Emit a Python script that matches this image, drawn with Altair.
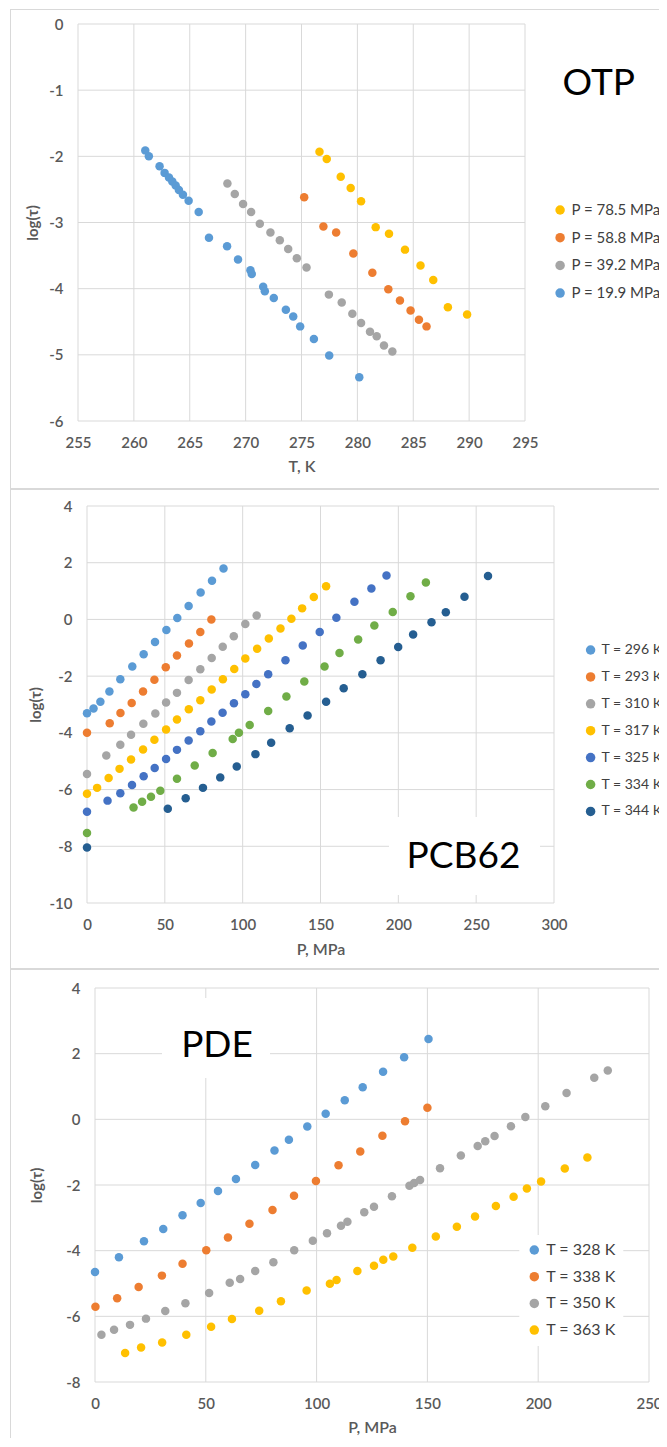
import altair as alt
import pandas as pd

# ---------------- data: OTP (log tau vs T) ----------------
otp_names = ["P = 78.5 MPa", "P = 58.8 MPa", "P = 39.2 MPa", "P = 19.9 MPa"]
otp_colors = ["#FFC000", "#ED7D31", "#A5A5A5", "#5B9BD5"]
otp_T_785 = [276.61, 277.26, 278.51, 279.40, 280.33, 281.64, 282.83, 284.26, 285.65, 286.79, 288.10, 289.82]
otp_v_785 = [-1.93, -2.04, -2.31, -2.48, -2.68, -3.07, -3.17, -3.41, -3.65, -3.87, -4.28, -4.39]
otp_T_588 = [275.24, 276.96, 278.10, 279.64, 281.34, 282.77, 283.81, 284.76, 285.51, 286.19]
otp_v_588 = [-2.62, -3.06, -3.15, -3.47, -3.76, -4.01, -4.18, -4.33, -4.47, -4.57]
otp_T_392 = [268.37, 269.03, 269.77, 270.49, 271.27, 272.22, 273.06, 273.81, 274.58, 275.45,
             277.45, 278.60, 279.55, 280.33, 281.13, 281.73, 282.38, 283.13]
otp_v_392 = [-2.41, -2.57, -2.72, -2.84, -3.02, -3.15, -3.27, -3.40, -3.54, -3.68,
             -4.09, -4.21, -4.38, -4.52, -4.65, -4.72, -4.86, -4.95]
otp_T_199 = [261.02, 261.34, 262.30, 262.75, 263.14, 263.44, 263.74, 264.03, 264.39, 264.90,
             265.80, 266.72, 268.34, 269.32, 270.43, 270.55, 271.57, 271.72, 272.52, 273.60,
             274.26, 274.88, 276.11, 277.48, 280.17]
otp_v_199 = [-1.91, -2.00, -2.15, -2.25, -2.32, -2.38, -2.44, -2.51, -2.58, -2.67,
             -2.84, -3.23, -3.36, -3.56, -3.72, -3.78, -3.97, -4.04, -4.14, -4.32,
             -4.42, -4.57, -4.76, -5.01, -5.34]
otp_x_ticks = [255, 260, 265, 270, 275, 280, 285, 290, 295]
otp_y_ticks = [-6, -5, -4, -3, -2, -1, 0]

# ---------------- data: PCB62 (log tau vs P) ----------------
pcb_names = ["T = 296 K", "T = 293 K", "T = 310 K", "T = 317 K", "T = 325 K", "T = 334 K", "T = 344 K"]
pcb_colors = ["#5B9BD5", "#ED7D31", "#A5A5A5", "#FFC000", "#4472C4", "#70AD47", "#255E91"]
pcb_P_296 = [0, 4.2, 8.6, 14.4, 21.4, 29.1, 36.4, 43.7, 51.0, 58.0, 65.3, 73.0, 80.3, 87.7]
pcb_v_296 = [-3.31, -3.14, -2.90, -2.54, -2.11, -1.66, -1.23, -0.80, -0.37, 0.05, 0.47, 0.95, 1.36, 1.80]
pcb_P_293 = [0, 14.6, 21.5, 28.7, 36.0, 43.3, 50.6, 57.8, 65.5, 72.8, 79.9]
pcb_v_293 = [-4.00, -3.66, -3.30, -2.95, -2.54, -2.13, -1.69, -1.27, -0.85, -0.44, 0.00]
pcb_P_310 = [0, 12.4, 21.4, 28.3, 36.2, 43.9, 50.8, 57.8, 65.3, 72.8, 80.1, 87.2, 94.3, 101.7, 109.0]
pcb_v_310 = [-5.45, -4.80, -4.42, -4.07, -3.68, -3.32, -2.93, -2.59, -2.14, -1.76, -1.36, -0.96, -0.59, -0.16, 0.14]
pcb_P_317 = [0, 6.5, 13.9, 20.9, 28.3, 36.0, 43.3, 50.8, 57.8, 65.4, 72.8, 80.1, 87.3, 94.6, 101.7,
             109.3, 116.8, 124.3, 131.3, 138.2, 145.7, 153.6]
pcb_v_317 = [-6.15, -5.94, -5.59, -5.27, -4.94, -4.59, -4.24, -3.88, -3.53, -3.17, -2.85, -2.47, -2.11, -1.75, -1.38,
             -1.03, -0.67, -0.32, 0.02, 0.39, 0.79, 1.17]
pcb_P_325 = [0, 13.2, 21.4, 28.9, 36.4, 43.5, 50.8, 57.8, 65.3, 72.8, 79.9, 87.1, 94.4, 101.7, 108.8,
             116.4, 127.5, 138.6, 149.5, 160.2, 171.8, 182.7, 192.4]
pcb_v_325 = [-6.78, -6.39, -6.13, -5.84, -5.53, -5.24, -4.92, -4.60, -4.27, -3.94, -3.60, -3.29, -2.96, -2.64, -2.28,
             -1.93, -1.44, -0.92, -0.44, 0.06, 0.62, 1.09, 1.55]
pcb_P_334 = [0, 29.9, 35.4, 41.1, 47.1, 57.8, 69.2, 80.7, 93.6, 97.6, 104.5, 116.4, 128.1, 139.6, 152.6,
             162.2, 174.2, 184.6, 196.4, 207.8, 217.7]
pcb_v_334 = [-7.53, -6.63, -6.43, -6.25, -6.04, -5.62, -5.15, -4.71, -4.22, -4.00, -3.72, -3.23, -2.72, -2.19, -1.66,
             -1.18, -0.71, -0.21, 0.26, 0.82, 1.30]
pcb_P_344 = [0, 51.9, 63.4, 74.5, 85.6, 96.2, 108.2, 118.3, 130.2, 141.7, 153.6, 164.9, 176.9, 188.6, 199.9,
             209.5, 221.3, 230.5, 242.5, 257.6]
pcb_v_344 = [-8.04, -6.68, -6.31, -5.94, -5.57, -5.19, -4.75, -4.35, -3.84, -3.39, -2.90, -2.43, -1.93, -1.44, -0.97,
             -0.53, -0.10, 0.25, 0.80, 1.53]
pcb_x_ticks = [0, 50, 100, 150, 200, 250, 300]
pcb_y_ticks = [-10, -8, -6, -4, -2, 0, 2, 4]

# ---------------- data: PDE (log tau vs P) ----------------
pde_names = ["T = 328 K", "T = 338 K", "T = 350 K", "T = 363 K"]
pde_colors = ["#5B9BD5", "#ED7D31", "#A5A5A5", "#FFC000"]
pde_P_328 = [0, 10.8, 22.1, 30.8, 39.5, 47.7, 55.5, 63.6, 72.3, 81.0, 87.5, 95.8, 104.1, 112.7, 120.8, 130.0, 139.5, 150.5]
pde_v_328 = [-4.65, -4.20, -3.71, -3.34, -2.92, -2.55, -2.18, -1.82, -1.39, -0.95, -0.62, -0.22, 0.17, 0.58, 0.98, 1.45, 1.89, 2.45]
pde_P_338 = [0.2, 10.0, 19.7, 30.2, 39.5, 50.2, 60.0, 69.7, 80.1, 89.8, 99.7, 109.9, 119.7, 129.7, 139.9, 150.0]
pde_v_338 = [-5.71, -5.45, -5.11, -4.76, -4.40, -3.99, -3.60, -3.18, -2.76, -2.33, -1.88, -1.40, -0.98, -0.50, -0.06, 0.35]
pde_P_350 = [2.9, 8.6, 15.8, 23.0, 31.7, 40.8, 51.5, 60.8, 65.5, 72.3, 80.5, 89.9, 98.3, 104.7, 111.0, 113.9,
             121.5, 125.9, 134.0, 141.9, 144.0, 146.7, 155.7, 165.1, 172.7, 176.1, 180.3, 187.7, 194.2, 203.2,
             212.8, 225.3, 231.4]
pde_v_350 = [-6.56, -6.41, -6.26, -6.07, -5.84, -5.60, -5.29, -4.98, -4.86, -4.62, -4.35, -3.99, -3.70, -3.47, -3.24, -3.12,
             -2.83, -2.66, -2.34, -2.02, -1.94, -1.85, -1.49, -1.10, -0.81, -0.67, -0.51, -0.21, 0.07, 0.40,
             0.80, 1.27, 1.49]
pde_P_363 = [13.6, 20.8, 30.3, 41.2, 52.4, 61.8, 74.1, 83.9, 95.5, 106.0, 109.0, 118.4, 125.9, 130.1, 134.6,
             143.2, 153.8, 163.3, 171.5, 180.9, 188.9, 194.9, 201.3, 212.0, 222.2]
pde_v_363 = [-7.12, -6.95, -6.80, -6.56, -6.32, -6.08, -5.83, -5.54, -5.21, -5.01, -4.89, -4.62, -4.46, -4.28, -4.18,
             -3.91, -3.57, -3.27, -2.96, -2.64, -2.36, -2.11, -1.89, -1.50, -1.16]
pde_x_ticks = [0, 50, 100, 150, 200, 250]
pde_y_ticks = [-8, -6, -4, -2, 0, 2, 4]

# ---------------- styling / layout (pixels inside one 651 x 1430 view) ----------------
FONT = "Lato"
GRID = "#d9d9d9"
TXT = "#595959"
LEG = "#404040"
FRAME = "#d9d9d9"
VIEW_W, VIEW_H = 651, 1430


def long_df(names, xs_list, ys_list):
    rows = []
    for n, xs, ys in zip(names, xs_list, ys_list):
        for a, b in zip(xs, ys):
            rows.append({"series": n, "x": a, "y": b})
    return pd.DataFrame(rows)


def one():
    return pd.DataFrame({"k": [0]})


def vrule(x, y1, y2, w=1):
    return alt.Chart(one()).mark_rule(color=FRAME, strokeWidth=w).encode(
        x=alt.value(x), y=alt.value(y1), y2=alt.value(y2))


def hrule(x1, x2, y, w=1):
    return alt.Chart(one()).mark_rule(color=FRAME, strokeWidth=w).encode(
        x=alt.value(x1), x2=alt.value(x2), y=alt.value(y))


def white_box(x1, x2, y1, y2):
    return alt.Chart(one()).mark_rect(color="white").encode(
        x=alt.value(x1), x2=alt.value(x2), y=alt.value(y1), y2=alt.value(y2))


def label(text, x, y, size=37):
    return alt.Chart(pd.DataFrame({"t": [text]})).mark_text(
        font=FONT, fontSize=size, color="black", align="center", baseline="alphabetic"
    ).encode(text="t:N", x=alt.value(x), y=alt.value(y))


def legend(x, y, size, row_pad, pad=0, fill=None):
    kw = dict(orient="none", legendX=x, legendY=y, title=None, symbolType="circle",
              symbolSize=90, symbolStrokeWidth=0, symbolOpacity=1, labelFont=FONT,
              labelFontSize=size, labelColor=LEG, rowPadding=row_pad, labelOffset=4,
              labelLimit=0, padding=pad)
    if fill:
        kw["fillColor"] = fill
    return alt.Legend(**kw)


def panel(df, names, colors, xdom, ydom, box, xticks, yticks, xtitle, xtp, ytp, leg):
    """Returns grid rules (x, y) and the points (with axes + legend) of one panel."""
    left, right, top, bottom = box
    xs = alt.Scale(domain=xdom, range=[left, right], nice=False, zero=False)
    ys = alt.Scale(domain=ydom, range=[bottom, top], nice=False, zero=False)
    xax = alt.Axis(values=xticks, title=xtitle, orient="bottom", offset=bottom - VIEW_H,
                   grid=False, domain=False, ticks=False, labelFont=FONT, labelFontSize=15,
                   labelFontWeight=600, labelColor=TXT, labelPadding=14, labelFlush=False,
                   labelOverlap=False, labelExpr="datum.value + ''", titleFont=FONT,
                   titleFontSize=16, titleColor=TXT, titleFontWeight=600, titlePadding=xtp,
                   minExtent=29, maxExtent=29)
    yax = alt.Axis(values=yticks, title="log(\u03c4)", orient="left", offset=-left,
                   grid=False, domain=False, ticks=False, labelFont=FONT, labelFontSize=15,
                   labelFontWeight=600, labelColor=TXT, labelPadding=15, labelFlush=False,
                   labelOverlap=False, labelExpr="datum.value + ''", titleFont=FONT,
                   titleFontSize=15, titleColor=TXT, titleFontWeight="bold", titlePadding=ytp,
                   minExtent=30, maxExtent=30)
    gv = alt.Chart(pd.DataFrame({"t": xticks})).mark_rule(color=GRID, strokeWidth=1).encode(
        x=alt.X("t:Q", scale=xs, axis=None), y=alt.value(top), y2=alt.value(bottom))
    gh = alt.Chart(pd.DataFrame({"t": yticks})).mark_rule(color=GRID, strokeWidth=1).encode(
        y=alt.Y("t:Q", scale=ys, axis=None), x=alt.value(left), x2=alt.value(right))
    pts = alt.Chart(df).mark_circle(size=72, opacity=1).encode(
        x=alt.X("x:Q", scale=xs, axis=xax),
        y=alt.Y("y:Q", scale=ys, axis=yax),
        color=alt.Color("series:N", scale=alt.Scale(domain=names, range=colors), legend=leg),
    )
    return gv, gh, pts


# ---------------- panel 1: OTP ----------------
otp_df = long_df(otp_names, [otp_T_785, otp_T_588, otp_T_392, otp_T_199],
                 [otp_v_785, otp_v_588, otp_v_392, otp_v_199])
g1v, g1h, pts1 = panel(otp_df, otp_names, otp_colors, [255, 295], [-6, 0], (70, 517, 16, 413),
                       otp_x_ticks, otp_y_ticks, "T, K", 8, 7.5,
                       legend(544.6, 194.5, 15, 11.7))

# ---------------- panel 2: PCB62 ----------------
pcb_df = long_df(pcb_names,
                 [pcb_P_296, pcb_P_293, pcb_P_310, pcb_P_317, pcb_P_325, pcb_P_334, pcb_P_344],
                 [pcb_v_296, pcb_v_293, pcb_v_310, pcb_v_317, pcb_v_325, pcb_v_334, pcb_v_344])
g2v, g2h, pts2 = panel(pcb_df, pcb_names, pcb_colors, [0, 300], [-10, 4], (79, 546, 498, 895),
                       pcb_x_ticks, pcb_y_ticks, "P, MPa", 9.3, 13.5,
                       legend(575.6, 635, 14, 12.9))

# ---------------- panel 3: PDE ----------------
pde_df = long_df(pde_names, [pde_P_328, pde_P_338, pde_P_350, pde_P_363],
                 [pde_v_328, pde_v_338, pde_v_350, pde_v_363])
g3v, g3h, pts3 = panel(pde_df, pde_names, pde_colors, [0, 250], [-8, 4], (87, 641, 980, 1374),
                       pde_x_ticks, pde_y_ticks, "P, MPa", 8.6, 21,
                       legend(511.3, 1227, 16, 10.7, 7, "white"))

chart = alt.layer(
    # panel frames and dividers
    vrule(2.5, 1, 1430),
    hrule(2.5, 651, 1.5),
    hrule(2.5, 651, 481, 2),
    hrule(2.5, 651, 961, 2),
    # gridlines
    g1v, g1h, g2v, g2h, g3v, g3h,
    # white backgrounds behind the annotations
    white_box(381, 532, 809, 887),
    white_box(154, 262, 990, 1070),
    # data
    pts1, pts2, pts3,
    # annotations
    label("OTP", 590.7, 87),
    label("PCB62", 455.5, 860),
    label("PDE", 209, 1049),
).resolve_scale(
    x="independent", y="independent", color="independent"
).resolve_axis(x="independent", y="independent").resolve_legend(color="independent").properties(
    width=VIEW_W, height=VIEW_H, padding=0,
    autosize=alt.AutoSizeParams(type="none", contains="padding"),
).configure_view(stroke=None)

chart.save("out.html", embed_options={"renderer": "svg", "actions": False})
